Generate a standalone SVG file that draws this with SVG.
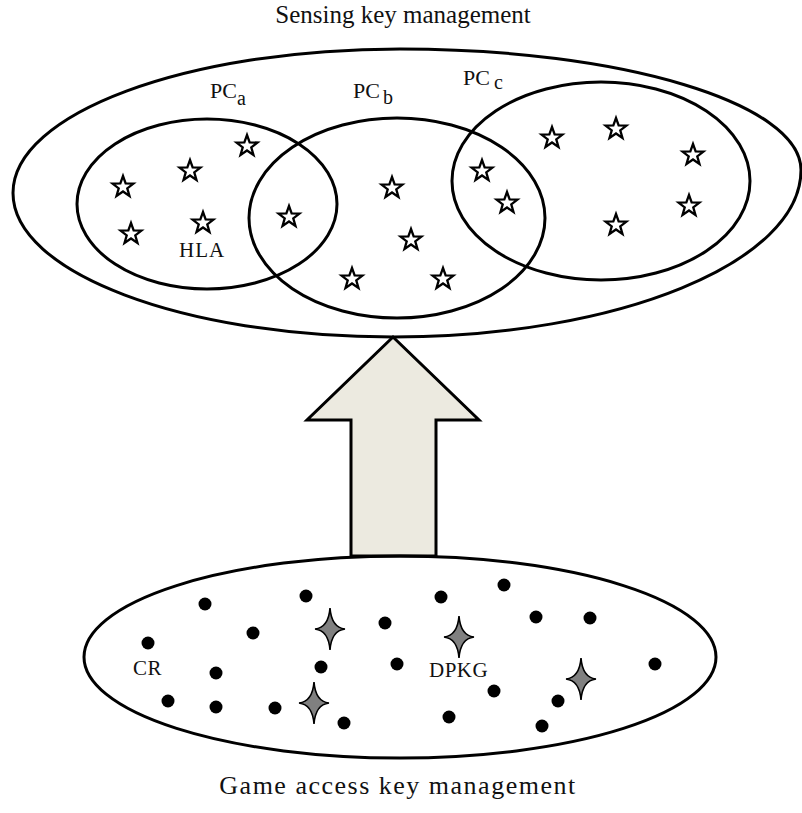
<svg xmlns="http://www.w3.org/2000/svg" xmlns:xlink="http://www.w3.org/1999/xlink" width="802" height="813" viewBox="0 0 802 813">
<style>
.ring{fill:none;stroke:#000;stroke-width:3}
.lbl{font-family:"Liberation Serif","Times New Roman",serif;fill:#111}
.dot{fill:#000}
</style>
<defs>
<path id="star5" d="M0,-11 L2.65,-3.64 L10.46,-3.4 L4.28,1.39 L6.47,8.9 L0,4.5 L-6.47,8.9 L-4.28,1.39 L-10.46,-3.4 L-2.65,-3.64 Z" fill="#fff" stroke="#000" stroke-width="2.3" stroke-linejoin="miter"/>
<path id="star4" d="M0,-21 Q1.5,-1.5 15,0 Q1.5,1.5 0,21 Q-1.5,1.5 -15,0 Q-1.5,-1.5 0,-21 Z" fill="#808080" stroke="#000" stroke-width="1.6"/>
</defs>
<rect width="802" height="813" fill="#fff"/>

<g id="connectors">
<polygon points="393,337 479,420 436,420 436,556 351,556 351,420 307,420" fill="#ECEAE0" stroke="#000" stroke-width="3" stroke-linejoin="miter"/>
</g>

<g id="sensing">
<path class="ring" d="M13,193 C13,113.5 186.3,49 400,49 C621.5,49 801,103.2 801,170 C801,262.2 618.3,337 393,337 C183.1,337 13,272.5 13,193 Z"/>
<text class="lbl" x="403" y="23" font-size="25" text-anchor="middle">Sensing key management</text>
</g>

<g id="PCa">
<ellipse class="ring" cx="207" cy="204" rx="130" ry="85"/>
<text class="lbl" x="210" y="98" font-size="22">PC</text>
<text class="lbl" x="237" y="105" font-size="20">a</text>
</g>

<g id="PCb">
<ellipse class="ring" cx="397" cy="218" rx="148" ry="100"/>
<text class="lbl" x="353" y="98" font-size="22">PC</text>
<text class="lbl" x="383" y="104" font-size="20">b</text>
</g>

<g id="PCc">
<ellipse class="ring" cx="601" cy="181" rx="149" ry="99"/>
<text class="lbl" x="463" y="85" font-size="22">PC</text>
<text class="lbl" x="494" y="89" font-size="20">c</text>
</g>

<g id="HLA">
<text class="lbl" x="179" y="257" font-size="21" letter-spacing="1">HLA</text>
</g>

<g id="sensors">
<use xlink:href="#star5" x="247" y="146"/>
<use xlink:href="#star5" x="190" y="171"/>
<use xlink:href="#star5" x="123" y="187"/>
<use xlink:href="#star5" x="131" y="234"/>
<use xlink:href="#star5" x="203" y="223"/>
<use xlink:href="#star5" x="289" y="217"/>
<use xlink:href="#star5" x="392" y="188"/>
<use xlink:href="#star5" x="411" y="240"/>
<use xlink:href="#star5" x="352" y="279"/>
<use xlink:href="#star5" x="443" y="279"/>
<use xlink:href="#star5" x="482" y="171"/>
<use xlink:href="#star5" x="507" y="203"/>
<use xlink:href="#star5" x="552" y="138"/>
<use xlink:href="#star5" x="616" y="129"/>
<use xlink:href="#star5" x="693" y="155"/>
<use xlink:href="#star5" x="689" y="206"/>
<use xlink:href="#star5" x="616" y="225"/>
</g>

<g id="game">
<ellipse class="ring" cx="400" cy="657" rx="316" ry="101" stroke-width="2.6"/>
<text class="lbl" x="398" y="794" font-size="26" letter-spacing="1.5" text-anchor="middle">Game access key management</text>
</g>

<g id="CR">
<text class="lbl" x="133" y="675" font-size="21" letter-spacing="0.5">CR</text>
</g>
<g id="DPKG">
<text class="lbl" x="429" y="677" font-size="21" letter-spacing="0.5">DPKG</text>
</g>

<g id="players">
<circle class="dot" cx="205" cy="604" r="6.5"/>
<circle class="dot" cx="306" cy="596" r="6.5"/>
<circle class="dot" cx="441" cy="597" r="6.5"/>
<circle class="dot" cx="504" cy="585" r="6.5"/>
<circle class="dot" cx="253" cy="633" r="6.5"/>
<circle class="dot" cx="385" cy="623" r="6.5"/>
<circle class="dot" cx="536" cy="617" r="6.5"/>
<circle class="dot" cx="590" cy="618" r="6.5"/>
<circle class="dot" cx="148" cy="643" r="6.5"/>
<circle class="dot" cx="216" cy="673" r="6.5"/>
<circle class="dot" cx="321" cy="667" r="6.5"/>
<circle class="dot" cx="397" cy="664" r="6.5"/>
<circle class="dot" cx="655" cy="664" r="6.5"/>
<circle class="dot" cx="168" cy="701" r="6.5"/>
<circle class="dot" cx="216" cy="707" r="6.5"/>
<circle class="dot" cx="275" cy="708" r="6.5"/>
<circle class="dot" cx="344" cy="723" r="6.5"/>
<circle class="dot" cx="449" cy="717" r="6.5"/>
<circle class="dot" cx="494" cy="691" r="6.5"/>
<circle class="dot" cx="558" cy="701" r="6.5"/>
<circle class="dot" cx="542" cy="726" r="6.5"/>
<use xlink:href="#star4" x="330" y="629"/>
<use xlink:href="#star4" x="314" y="703"/>
<use xlink:href="#star4" x="459" y="637"/>
<use xlink:href="#star4" x="581" y="679"/>
</g>
</svg>
